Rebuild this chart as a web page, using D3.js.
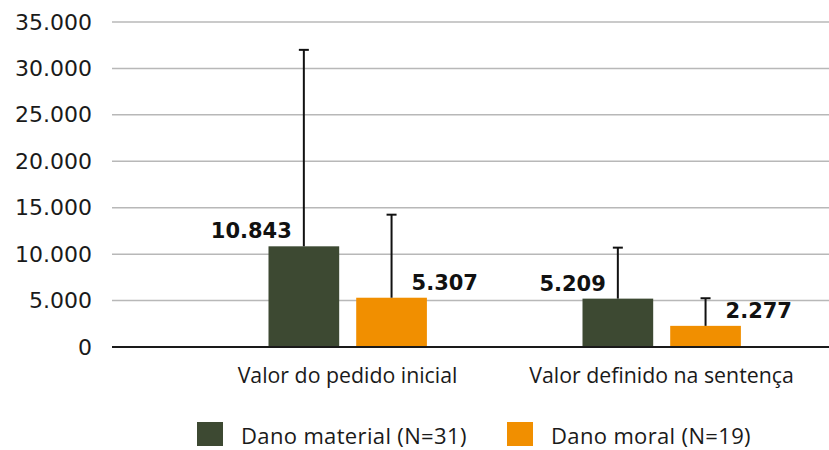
<!DOCTYPE html>
<html><head><meta charset="utf-8">
<script src="https://cdn.jsdelivr.net/npm/d3@7"></script>
<style>body{margin:0;background:#fff}svg{display:block}</style>
</head><body>
<svg id="c" width="829" height="450"></svg>
<script>
const categories = ["Valor do pedido inicial", "Valor definido na sentença"];
const series = ["Dano material (N=31)", "Dano moral (N=19)"];
const materialValues = [10843, 5209];
const moralValues = [5307, 2277];
const materialErrorTop = [32000, 10700];
const moralErrorTop = [14250, 5250];
const yTicks = [0, 5000, 10000, 15000, 20000, 25000, 30000, 35000];
const colors = ["#3d4932", "#f18f00"];

const svg = d3.select("#c");
const loc = d3.formatLocale({decimal: ",", thousands: ".", grouping: [3], currency: ["", ""]});
const fmt = loc.format(",");

const y = d3.scaleLinear().domain([0, 35000]).range([347, 22]);
const plotLeft = 112, plotRight = 829;

// grid
svg.append("g").selectAll("line").data(yTicks.filter(d => d > 0)).join("line")
  .attr("x1", plotLeft).attr("x2", plotRight)
  .attr("y1", d => y(d)).attr("y2", d => y(d))
  .attr("stroke", "#b8b8b8").attr("stroke-width", 1.5);

// y axis labels
const yAxis = d3.axisLeft(y).tickValues(yTicks).tickFormat(fmt).tickSize(0).tickPadding(0);
const ga = svg.append("g").attr("transform", "translate(92,0)").call(yAxis);
ga.select(".domain").remove();
ga.selectAll("text").attr("font-family", "DejaVu Sans").attr("font-size", 22).attr("fill", "#1a1a1a");

// bars
const x0 = d3.scaleBand().domain(categories).range([190.5, 818.5]);
const x1 = d3.scaleBand().domain(series).range([78, 236.4]).paddingInner(0.194);

const rows = [];
categories.forEach((c, i) => {
  rows.push({cat: c, s: series[0], v: materialValues[i], e: materialErrorTop[i], k: 0});
  rows.push({cat: c, s: series[1], v: moralValues[i], e: moralErrorTop[i], k: 1});
});

svg.append("g").selectAll("rect").data(rows).join("rect")
  .attr("x", d => x0(d.cat) + x1(d.s))
  .attr("width", x1.bandwidth())
  .attr("y", d => y(d.v))
  .attr("height", d => y(0) - y(d.v))
  .attr("fill", d => colors[d.k]);

// axis baseline
svg.append("line").attr("x1", plotLeft).attr("x2", plotRight)
  .attr("y1", y(0)).attr("y2", y(0)).attr("stroke", "#1a1a1a").attr("stroke-width", 2);

// error bars
const eb = svg.append("g").attr("stroke", "#111").attr("stroke-width", 2);
rows.forEach(d => {
  const cx = x0(d.cat) + x1(d.s) + x1.bandwidth() / 2;
  eb.append("line").attr("x1", cx).attr("x2", cx).attr("y1", y(d.v)).attr("y2", y(d.e));
  eb.append("line").attr("x1", cx - 5).attr("x2", cx + 5).attr("y1", y(d.e)).attr("y2", y(d.e));
});

// data labels
svg.append("g").selectAll("text").data(rows).join("text")
  .attr("x", d => {
    const cx = x0(d.cat) + x1(d.s) + x1.bandwidth() / 2;
    return d.k === 0 ? cx - 12 : cx + 20;
  })
  .attr("y", d => y(d.v) - 8)
  .attr("text-anchor", d => d.k === 0 ? "end" : "start")
  .attr("font-family", "DejaVu Sans").attr("font-weight", "bold").attr("font-size", 21)
  .attr("fill", "#111")
  .text(d => fmt(d.v));

// category labels (centred under each bar group)
const gx = svg.append("g").attr("transform", "translate(0,383)")
  .call(d3.axisBottom(x0).tickSize(0).tickPadding(0));
gx.select(".domain").remove();
gx.selectAll("text").attr("dy", 0).attr("font-family", "Open Sans").attr("font-size", 21.3).attr("fill", "#1a1a1a");

// legend
const legX = [197, 507];
const lg = svg.append("g");
series.forEach((s, i) => {
  lg.append("rect").attr("x", legX[i]).attr("y", 422).attr("width", 26).attr("height", 24).attr("fill", colors[i]);
  lg.append("text").attr("x", legX[i] + 44).attr("y", 444)
    .attr("font-family", "Open Sans").attr("font-size", 22).attr("letter-spacing", 0.35)
    .attr("fill", "#1a1a1a").text(s);
});
</script>
</body></html>
